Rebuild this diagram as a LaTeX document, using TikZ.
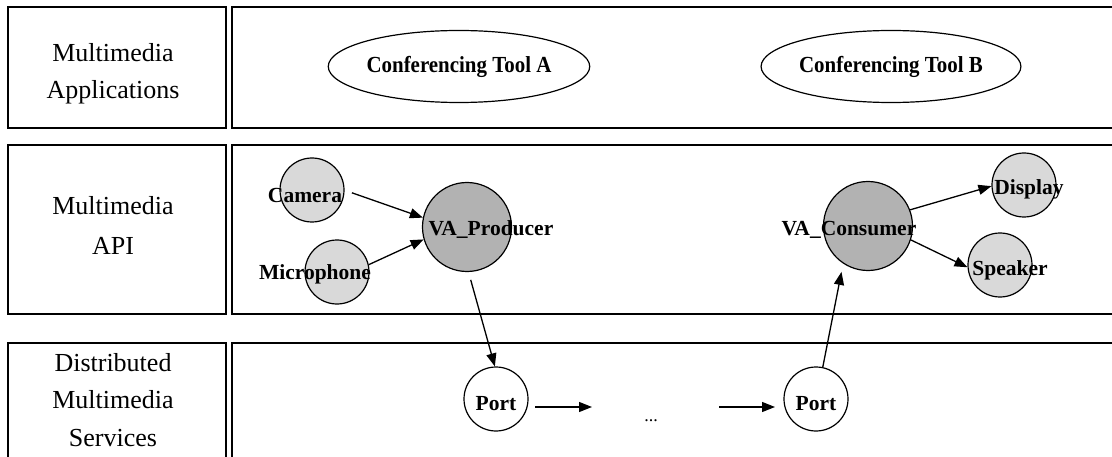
\documentclass[tikz,border=0pt]{standalone}
\usepackage{fontspec}
\setmainfont{Liberation Serif}
\usetikzlibrary{arrows.meta,calc,shapes.geometric}

\definecolor{devfill}{RGB}{217,217,217}
\definecolor{corefill}{RGB}{178,178,178}

\tikzset{
  layerbox/.style={draw, line width=1.9pt},
  rowlabel/.style={anchor=base, inner sep=0pt, font=\fontsize{26}{28}\selectfont},
  apptool/.style={ellipse, draw, line width=1.2pt, minimum width=232pt,
    minimum height=72pt, inner sep=0pt,
    font=\fontsize{23}{26}\selectfont\bfseries\addfontfeature{FakeStretch=0.91}},
  device/.style={circle, draw, line width=1.2pt, fill=devfill,
    minimum size=64pt, inner sep=0pt},
  core/.style={circle, draw, line width=1.2pt, fill=corefill,
    minimum size=89pt, inner sep=0pt},
  portnode/.style={circle, draw, line width=1.2pt, fill=white,
    minimum size=64pt, inner sep=0pt},
  nodelabel/.style={anchor=base, inner sep=0pt,
    font=\fontsize{21.5}{24}\selectfont\bfseries},
  flow/.style={-{Triangle[length=13pt,width=10pt]}, line width=1.3pt}
}

\begin{document}
\begin{tikzpicture}[x=1pt,y=1pt]
\useasboundingbox (0,0) rectangle (1112,456);
\fill[white] (0,0) rectangle (1112,456);

% layer frames (right column and bottom row run past the page edge)
\begin{scope}
  \clip (0,0) rectangle (1112,456);
  \draw[layerbox] (8,449) rectangle (226,328);
  \draw[layerbox] (232,449) rectangle (1130,328);
  \draw[layerbox] (8,311) rectangle (226,142);
  \draw[layerbox] (232,311) rectangle (1130,142);
  \draw[layerbox] (8,113) rectangle (226,-20);
  \draw[layerbox] (232,113) rectangle (1130,-20);
\end{scope}

% layer names
\node[rowlabel] (r1a) at (113,394) {Multimedia};
\node[rowlabel] (r1b) at (113,357) {Applications};
\node[rowlabel] (r2a) at (113,241) {Multimedia};
\node[rowlabel] (r2b) at (113,201) {API};
\node[rowlabel] (r3a) at (113,85) {Distributed};
\node[rowlabel] (r3b) at (113,48) {Multimedia};
\node[rowlabel] (r3c) at (113,10) {Services};

% applications
\node[apptool] (toolA) at (459,389.5) {Conferencing Tool A};
\node[apptool] (toolB) at (891,389.5) {Conferencing Tool B};

% API objects
\node[device] (cam) at (312,266) {};
\node[device] (mic) at (337,184) {};
\node[core] (prod) at (467,229) {};
\node[core] (cons) at (868,230) {};
\node[device] (disp) at (1024,271) {};
\node[device] (spk) at (1000,191) {};

% service ports
\node[portnode] (port1) at (496,57) {};
\node[portnode] (port2) at (816,57) {};

% object names
\node[nodelabel] (camt) at (305,253) {Camera};
\node[nodelabel] (mict) at (315,176) {Microphone};
\node[nodelabel] (prodt) at (491,220) {VA\_Producer};
\node[nodelabel] (const) at (849,220) {VA\_Consumer};
\node[nodelabel] (dispt) at (1029,261) {Display};
\node[nodelabel] (spkt) at (1010,181) {Speaker};
\node[nodelabel] (port1t) at (496,46) {Port};
\node[nodelabel] (port2t) at (816,46) {Port};

% data flow
\draw[flow] ($(cam.center)+(-4:40)$) -- (prod.168);
\draw[flow] (mic.13) -- (prod.196);
\draw[flow] ($(prod.center)+(-86:53)$) -- (port1.92);

\coordinate (midL) at (592,49);
\coordinate (midR) at (719,49);
\draw[flow] ($(port1.center)+(39,-8)$) -- (midL);
\node[anchor=base, inner sep=0pt, font=\fontsize{18}{20}\selectfont] (gap) at (651,35) {...};
\draw[flow] (midR) -- ($(port2.center)+(-41,-8)$);

\draw[flow] (port2.78) -- ($(cons.center)+(240:53)$);
\draw[flow] (cons.21) -- (disp.182);
\draw[flow] (cons.-18) -- (spk.184);
\end{tikzpicture}
\end{document}
